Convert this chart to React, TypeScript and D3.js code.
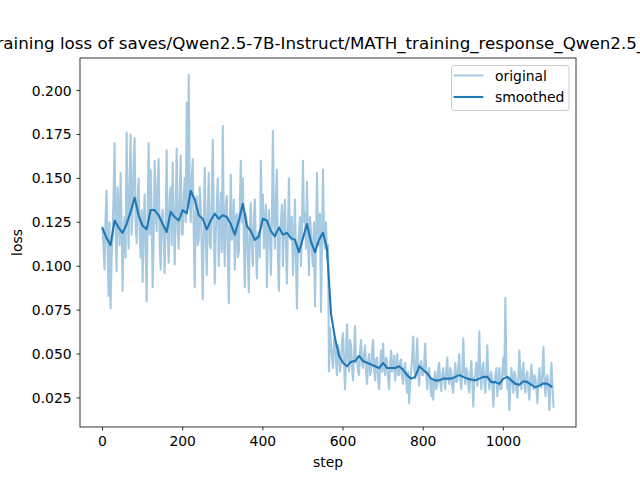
import React from 'react';
import * as d3 from 'd3';

const ORIGINAL_STEP = 2.5;
const originalLoss: number[] = [
  0.122, 0.110, 0.098, 0.128, 0.143, 0.112, 0.083, 0.125, 0.076, 0.104, 0.118, 0.140, 0.170, 0.121, 0.097, 0.145, 0.131, 0.112, 0.153, 0.125,
  0.086, 0.118, 0.128, 0.105, 0.176, 0.135, 0.110, 0.148, 0.175, 0.118, 0.130, 0.160, 0.173, 0.125, 0.113, 0.138, 0.150, 0.120, 0.105, 0.132,
  0.091, 0.122, 0.141, 0.110, 0.080, 0.128, 0.170, 0.118, 0.155, 0.130, 0.088, 0.116, 0.160, 0.135, 0.120, 0.148, 0.161, 0.112, 0.098, 0.128,
  0.132, 0.115, 0.096, 0.125, 0.166, 0.120, 0.102, 0.138, 0.145, 0.112, 0.159, 0.128, 0.101, 0.130, 0.167, 0.122, 0.110, 0.140, 0.163, 0.118,
  0.118, 0.140, 0.150, 0.125, 0.193, 0.135, 0.209, 0.140, 0.125, 0.150, 0.161, 0.118, 0.088, 0.130, 0.140, 0.112, 0.115, 0.145, 0.135, 0.110,
  0.081, 0.120, 0.156, 0.118, 0.095, 0.130, 0.153, 0.112, 0.110, 0.138, 0.172, 0.125, 0.090, 0.118, 0.135, 0.150, 0.100, 0.125, 0.142, 0.108,
  0.180, 0.120, 0.100, 0.135, 0.140, 0.108, 0.079, 0.125, 0.152, 0.115, 0.120, 0.138, 0.098, 0.128, 0.130, 0.105, 0.108, 0.135, 0.160, 0.125,
  0.150, 0.115, 0.088, 0.130, 0.125, 0.105, 0.085, 0.122, 0.136, 0.110, 0.100, 0.128, 0.138, 0.112, 0.093, 0.118, 0.120, 0.105, 0.160, 0.125,
  0.141, 0.110, 0.125, 0.135, 0.088, 0.115, 0.132, 0.118, 0.095, 0.125, 0.177, 0.130, 0.110, 0.138, 0.155, 0.105, 0.086, 0.120, 0.125, 0.135,
  0.100, 0.125, 0.138, 0.112, 0.090, 0.120, 0.150, 0.118, 0.115, 0.128, 0.095, 0.110, 0.138, 0.105, 0.076, 0.112, 0.118, 0.128, 0.100, 0.120,
  0.160, 0.125, 0.130, 0.110, 0.148, 0.118, 0.095, 0.128, 0.120, 0.108, 0.100, 0.125, 0.077, 0.112, 0.153, 0.120, 0.112, 0.130, 0.074, 0.110,
  0.155, 0.118, 0.110, 0.125, 0.105, 0.112, 0.040, 0.065, 0.055, 0.048, 0.042, 0.058, 0.060, 0.045, 0.038, 0.055, 0.052, 0.040, 0.045, 0.058,
  0.062, 0.045, 0.030, 0.052, 0.067, 0.048, 0.040, 0.058, 0.055, 0.042, 0.035, 0.050, 0.066, 0.045, 0.048, 0.040, 0.038, 0.052, 0.058, 0.044,
  0.042, 0.050, 0.055, 0.040, 0.033, 0.046, 0.050, 0.038, 0.040, 0.052, 0.058, 0.042, 0.035, 0.047, 0.048, 0.036, 0.030, 0.044, 0.052, 0.040,
  0.056, 0.042, 0.038, 0.048, 0.045, 0.036, 0.030, 0.044, 0.052, 0.040, 0.041, 0.049, 0.035, 0.042, 0.050, 0.038, 0.038, 0.046, 0.047, 0.036,
  0.033, 0.042, 0.045, 0.035, 0.028, 0.040, 0.022, 0.034, 0.040, 0.048, 0.060, 0.042, 0.036, 0.045, 0.059, 0.040, 0.032, 0.044, 0.046, 0.038,
  0.038, 0.045, 0.056, 0.040, 0.030, 0.038, 0.042, 0.033, 0.026, 0.036, 0.024, 0.035, 0.040, 0.030, 0.032, 0.042, 0.045, 0.034, 0.029, 0.038,
  0.042, 0.035, 0.030, 0.040, 0.048, 0.036, 0.033, 0.042, 0.040, 0.031, 0.028, 0.038, 0.045, 0.034, 0.035, 0.043, 0.050, 0.036, 0.030, 0.040,
  0.059, 0.040, 0.033, 0.042, 0.040, 0.032, 0.028, 0.038, 0.046, 0.035, 0.020, 0.036, 0.038, 0.045, 0.032, 0.040, 0.063, 0.038, 0.030, 0.042,
  0.045, 0.034, 0.028, 0.040, 0.055, 0.036, 0.030, 0.038, 0.040, 0.032, 0.020, 0.034, 0.038, 0.042, 0.026, 0.035, 0.042, 0.030, 0.030, 0.040,
  0.048, 0.038, 0.082, 0.040, 0.030, 0.036, 0.018, 0.032, 0.042, 0.035, 0.028, 0.040, 0.038, 0.030, 0.025, 0.036, 0.052, 0.038, 0.030, 0.040,
  0.045, 0.032, 0.028, 0.038, 0.040, 0.030, 0.024, 0.036, 0.044, 0.034, 0.030, 0.038, 0.036, 0.030, 0.022, 0.035, 0.042, 0.033, 0.031, 0.040,
  0.054, 0.035, 0.026, 0.036, 0.038, 0.030, 0.018, 0.034, 0.045, 0.032, 0.020,
];

const SMOOTH_STEP = 10;
const smoothedLoss: number[] = [
  0.1216, 0.116, 0.112, 0.126, 0.122, 0.119, 0.124, 0.131, 0.139, 0.129,
  0.123, 0.121, 0.132, 0.132, 0.129, 0.124, 0.1195, 0.131, 0.128, 0.126,
  0.132, 0.130, 0.143, 0.138, 0.129, 0.127, 0.121, 0.126, 0.130, 0.127,
  0.129, 0.128, 0.124, 0.118, 0.126, 0.1356, 0.123, 0.120, 0.115, 0.117,
  0.127, 0.126, 0.120, 0.117, 0.122, 0.118, 0.119, 0.116, 0.115, 0.108,
  0.116, 0.124, 0.114, 0.108, 0.115, 0.119, 0.110, 0.073, 0.059, 0.049,
  0.045, 0.043, 0.0456, 0.046, 0.049, 0.046, 0.045, 0.044, 0.043, 0.042,
  0.045, 0.042, 0.042, 0.042, 0.043, 0.041, 0.038, 0.036, 0.037, 0.043,
  0.041, 0.039, 0.036, 0.035, 0.035, 0.036, 0.036, 0.036, 0.037, 0.038,
  0.037, 0.036, 0.0355, 0.035, 0.036, 0.037, 0.037, 0.034, 0.034, 0.033,
  0.036, 0.037, 0.035, 0.033, 0.0325, 0.0345, 0.034, 0.0325, 0.031, 0.032,
  0.0333, 0.033, 0.0315,
];

const xTicks = [0, 200, 400, 600, 800, 1000];
const yTicks = [0.025, 0.05, 0.075, 0.1, 0.125, 0.15, 0.175, 0.2];
const titleText = 'Training loss of saves/Qwen2.5-7B-Instruct/MATH_training_response_Qwen2.5_7B';
const legendLabels = ['original', 'smoothed'];

const COLOR = '#1f77b4';
const FONT = 'DejaVu Sans, sans-serif';

export default function App() {
  const W = 640, H = 480;
  const L = 80, R = 576, T = 58, B = 427;

  const orig: [number, number][] = originalLoss.map((v, i) => [i * ORIGINAL_STEP, v]);
  const smooth: [number, number][] = smoothedLoss.map((v, i) => [i * SMOOTH_STEP, v]);

  const xs = orig.map(d => d[0]).concat(smooth.map(d => d[0]));
  const ys = orig.map(d => d[1]).concat(smooth.map(d => d[1]));
  const [x0, x1] = d3.extent(xs) as [number, number];
  const [y0, y1] = d3.extent(ys) as [number, number];
  const xm = (x1 - x0) * 0.05, ym = (y1 - y0) * 0.05;

  const x = d3.scaleLinear().domain([x0 - xm, x1 + xm]).range([L, R]);
  const y = d3.scaleLinear().domain([y0 - ym, y1 + ym]).range([B, T]);

  const line = d3.line<[number, number]>().x(d => x(d[0])).y(d => y(d[1]));

  const fs = 13.9;
  const legX = 451.5, legY = 65.5, legW = 117.5, legH = 45;

  return (
    <svg width={W} height={H} style={{ position: 'absolute', left: 0, top: 0, background: '#fff' }}
      fontFamily={FONT}>
      <rect x={0} y={0} width={W} height={H} fill="#fff" />
      <defs>
        <clipPath id="plotclip"><rect x={L} y={T} width={R - L} height={B - T} /></clipPath>
      </defs>
      <g clipPath="url(#plotclip)">
        <path d={line(orig) || ''} fill="none" stroke={COLOR} strokeOpacity={0.4} strokeWidth={2.08}
          strokeLinejoin="round" strokeLinecap="square" />
        <path d={line(smooth) || ''} fill="none" stroke={COLOR} strokeWidth={2.08}
          strokeLinejoin="round" strokeLinecap="square" />
      </g>
      <rect x={L} y={T} width={R - L} height={B - T} fill="none" stroke="#000" strokeWidth={0.8} />
      {xTicks.map(t => (
        <g key={'x' + t}>
          <line x1={x(t)} x2={x(t)} y1={B} y2={B + 3.5} stroke="#000" strokeWidth={0.8} />
          <text x={x(t)} y={B + 3.5 + 4.9} dy="0.76em" textAnchor="middle" fontSize={fs} fill="#000">{t}</text>
        </g>
      ))}
      {yTicks.map(t => (
        <g key={'y' + t}>
          <line x1={L - 3.5} x2={L} y1={y(t)} y2={y(t)} stroke="#000" strokeWidth={0.8} />
          <text x={L - 3.5 - 4.9} y={y(t)} dy="0.36em" textAnchor="end" fontSize={fs} fill="#000">{t.toFixed(3)}</text>
        </g>
      ))}
      <text x={(L + R) / 2} y={467} textAnchor="middle" fontSize={fs} fill="#000">step</text>
      <text transform={`translate(22,${(T + B) / 2}) rotate(-90)`} textAnchor="middle" fontSize={fs} fill="#000">loss</text>
      <text x={(L + R) / 2} y={49} textAnchor="middle" fontSize={16.7} fill="#000">{titleText}</text>
      <rect x={legX} y={legY} width={legW} height={legH} rx={2.8} fill="#fff" fillOpacity={0.8}
        stroke="#cccccc" strokeWidth={1} />
      {legendLabels.map((lab, i) => (
        <g key={lab}>
          <line x1={453.5} x2={483.3} y1={75.5 + i * 21.5} y2={75.5 + i * 21.5} stroke={COLOR}
            strokeOpacity={i === 0 ? 0.4 : 1} strokeWidth={2.08} />
          <text x={495} y={80.5 + i * 21.5} fontSize={fs} fill="#000">{lab}</text>
        </g>
      ))}
    </svg>
  );
}
